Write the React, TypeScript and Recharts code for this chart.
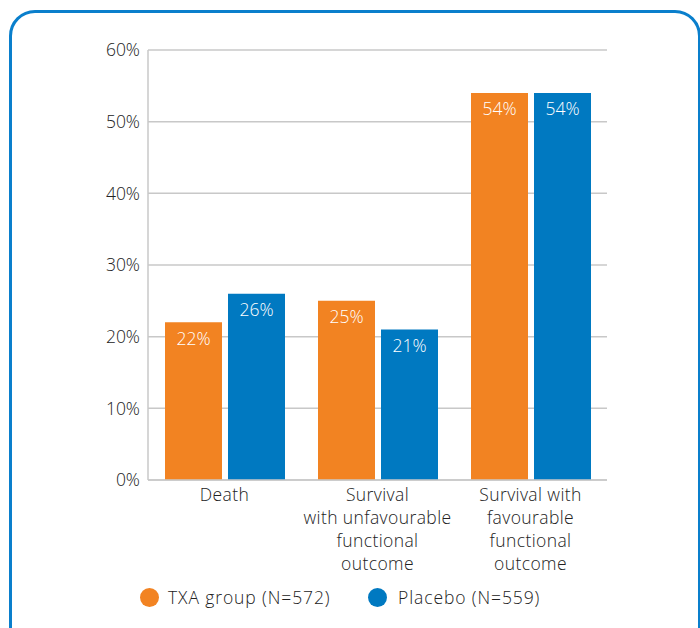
import React from 'react';
import { BarChart, Bar, XAxis, YAxis, CartesianGrid, Legend, LabelList } from 'recharts';

const categories = ['Death', 'Survival with unfavourable functional outcome', 'Survival with favourable functional outcome'];
const categoryLines = [
  ['Death'],
  ['Survival', 'with unfavourable', 'functional', 'outcome'],
  ['Survival with', 'favourable', 'functional', 'outcome'],
];
const txaValues = [22, 25, 54];
const placeboValues = [26, 21, 54];
const yTicks = [0, 10, 20, 30, 40, 50, 60];
const seriesNames = ['TXA group (N=572)', 'Placebo (N=559)'];

const ORANGE = '#F28322';
const BLUE = '#0079C1';
const FONT = '"Open Sans", sans-serif';
const FS = 17.5;
const FW = 300;

const data = categories.map((name, i) => ({ name, idx: i, txa: txaValues[i], placebo: placeboValues[i] }));

const CategoryTick = (props: any) => {
  const { x, y, payload } = props;
  const lines = categoryLines[payload.index] || [String(payload.value)];
  return (
    <text x={x} y={y} textAnchor="middle" fill="#222" fontSize={FS} fontWeight={FW} fontFamily={FONT} letterSpacing={0.4}>
      {lines.map((l, i) => (
        <tspan key={i} x={x} dy={i === 0 ? 13 : 23}>{l}</tspan>
      ))}
    </text>
  );
};

const dot = (color: string, left: number): React.CSSProperties => ({
  position: 'absolute', left, top: 8, width: 19, height: 19, borderRadius: '50%', background: color,
});
const label = (left: number): React.CSSProperties => ({
  position: 'absolute', left, top: 5, lineHeight: '24px', whiteSpace: 'nowrap', letterSpacing: 0.9,
});

const LegendContent = () => (
  <div style={{ position: 'relative', width: 700, height: 36, fontFamily: FONT, fontSize: FS, fontWeight: FW, color: '#222' }}>
    <span style={dot(ORANGE, 140)} />
    <span style={label(168)}>{seriesNames[0]}</span>
    <span style={dot(BLUE, 368)} />
    <span style={label(398)}>{seriesNames[1]}</span>
  </div>
);

export default function App() {
  return (
    <div style={{ position: 'fixed', left: 0, top: 0, width: 700, height: 628, background: '#fff', overflow: 'hidden' }}>
      <div style={{ position: 'absolute', left: 9, top: 10, width: 686, height: 660, border: '3px solid #0A7FCC', borderRadius: 26 }} />
      <div style={{ position: 'absolute', left: 0, top: 0 }}>
        <BarChart width={700} height={628} data={data} margin={{ top: 50, right: 93, left: 0, bottom: 12 }} barGap={6} barCategoryGap={17}>
          <CartesianGrid horizontal vertical={false} stroke="#c8c8c8" strokeWidth={1.5} />
          <XAxis dataKey="name" tick={<CategoryTick />} tickLine={false} axisLine={{ stroke: '#c8c8c8', strokeWidth: 1.5 }} height={100} interval={0} />
          <YAxis
            domain={[0, 60]}
            ticks={yTicks}
            tickFormatter={(v: number) => `${v}%`}
            tickLine={false}
            axisLine={{ stroke: '#c8c8c8', strokeWidth: 1.5 }}
            width={148}
            tick={{ fill: '#222', fontSize: FS, fontWeight: FW, fontFamily: FONT }}
          />
          <Legend verticalAlign="bottom" height={36} wrapperStyle={{ left: 0, width: 700 }} content={<LegendContent />} />
          <Bar dataKey="txa" name={seriesNames[0]} fill={ORANGE} isAnimationActive={false}>
            <LabelList dataKey="txa" position="insideTop" offset={10} formatter={(v: any) => `${v}%`} fill="#fff" fontSize={FS} fontWeight={FW} fontFamily={FONT} />
          </Bar>
          <Bar dataKey="placebo" name={seriesNames[1]} fill={BLUE} isAnimationActive={false}>
            <LabelList dataKey="placebo" position="insideTop" offset={10} formatter={(v: any) => `${v}%`} fill="#fff" fontSize={FS} fontWeight={FW} fontFamily={FONT} />
          </Bar>
        </BarChart>
      </div>
    </div>
  );
}
